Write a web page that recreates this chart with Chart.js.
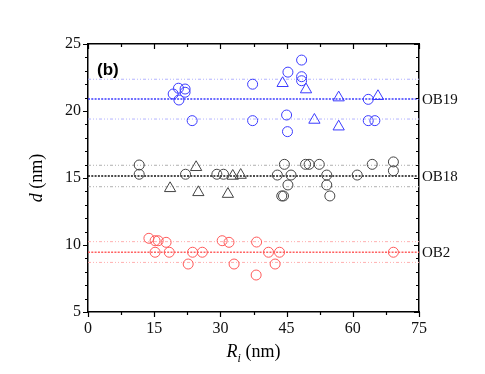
<!DOCTYPE html>
<html>
<head>
<meta charset="utf-8">
<script src="https://cdn.jsdelivr.net/npm/chart.js@4/dist/chart.umd.min.js"></script>
<style>
html,body{margin:0;padding:0;background:#fff;}
#wrap{width:485px;height:374px;position:relative;}
</style>
</head>
<body>
<div id="wrap"><canvas id="c" width="485" height="374"></canvas></div>
<script>
// ---- data ----
const ob19CircleX = [19.3, 20.5, 22.0, 22.0, 20.6, 23.6, 37.3, 37.3, 45.3, 48.4, 48.4, 48.4, 45.0, 45.2, 63.5, 63.5, 65.0];
const ob19CircleY = [21.27, 21.7, 21.64, 21.4, 20.82, 19.28, 22.0, 19.28, 22.9, 23.8, 22.56, 22.26, 19.7, 18.46, 20.87, 19.28, 19.28];
const ob19TriX = [44.1, 49.4, 56.8, 65.7, 51.3, 56.8];
const ob19TriY = [22.07, 21.6, 21.0, 21.1, 19.33, 18.83];

const ob18CircleX = [11.6, 11.6, 22.1, 29.2, 30.7, 44.5, 49.3, 50.1, 52.4, 64.4, 69.2, 69.2, 42.9, 46.0, 54.1, 61.0, 45.3, 54.1, 43.9, 44.3, 54.8];
const ob18CircleY = [15.97, 15.28, 15.28, 15.28, 15.28, 16.02, 16.02, 16.02, 16.02, 16.02, 16.2, 15.54, 15.22, 15.22, 15.22, 15.22, 14.48, 14.48, 13.66, 13.66, 13.66];
const ob18TriX = [24.5, 18.6, 25.0, 31.7, 32.8, 34.6];
const ob18TriY = [15.8, 14.23, 13.93, 13.8, 15.15, 15.22];

const ob2CircleX = [13.8, 15.2, 15.9, 17.7, 15.2, 18.4, 22.7, 23.7, 25.9, 30.4, 31.95, 33.1, 38.2, 38.1, 40.9, 43.4, 42.4, 69.2];
const ob2CircleY = [10.5, 10.32, 10.32, 10.2, 9.46, 9.46, 8.58, 9.46, 9.46, 10.32, 10.2, 8.58, 10.22, 7.76, 9.46, 9.46, 8.58, 9.46];

const groupNames = ["OB19", "OB18", "OB2"];
const groupMean  = [20.9, 15.15, 9.46];
const groupUpper = [22.37, 15.95, 10.25];
const groupLower = [19.4, 14.35, 8.7];

const xRange = [0, 75];
const yRange = [5, 25];
const xTickValues = [0, 15, 30, 45, 60, 75];
const yTickValues = [5, 10, 15, 20, 25];

// ---- styles ----
const groupColor = ["#3c3cff", "#444444", "#ff5a5a"];
const meanColor  = ["#3c3cff", "#111111", "#ff6060"];
const boundColor = ["#b4b4ff", "#b0b0b0", "#ffb0b0"];

function pts(xs, ys){ return xs.map((x,i)=>({x:x, y:ys[i]})); }

const datasets = [];
for (let g = 0; g < groupNames.length; g++) {
  [groupUpper[g], groupLower[g]].forEach(v => {
    datasets.push({type:'line', data:[{x:xRange[0],y:v},{x:xRange[1],y:v}],
      borderColor:boundColor[g], borderWidth:1, borderDash:[3,2,1,2,1,2], pointRadius:0, order:5});
  });
  datasets.push({type:'line', data:[{x:xRange[0],y:groupMean[g]},{x:xRange[1],y:groupMean[g]}],
    borderColor:meanColor[g], borderWidth:1.4, borderDash:[2,1.3], pointRadius:0, order:4});
}
function markerSet(xs, ys, color, style, r){
  return {type:'scatter', data:pts(xs,ys), showLine:false, pointStyle:style,
    pointRadius:r, pointHoverRadius:r, borderColor:color, backgroundColor:'rgba(0,0,0,0)',
    pointBorderWidth:1, borderWidth:1, order:1};
}
datasets.push(markerSet(ob19CircleX, ob19CircleY, groupColor[0], 'circle', 5));
datasets.push(markerSet(ob19TriX, ob19TriY, groupColor[0], 'triangle', 6.5));
datasets.push(markerSet(ob18CircleX, ob18CircleY, groupColor[1], 'circle', 5));
datasets.push(markerSet(ob18TriX, ob18TriY, groupColor[1], 'triangle', 6.5));
datasets.push(markerSet(ob2CircleX, ob2CircleY, groupColor[2], 'circle', 5));

const serif = "'Liberation Serif','Times New Roman',serif";

const tickPlugin = {
  id:'ticksAndText',
  afterDraw(chart){
    const ctx = chart.ctx, a = chart.chartArea;
    const xs = chart.scales.x, ys = chart.scales.y;
    ctx.save();
    ctx.strokeStyle = '#000'; ctx.lineWidth = 1.2;
    ctx.beginPath();
    for (let v = xRange[0]; v <= xRange[1] + 1e-9; v += 7.5) {
      const major = Math.abs(v/15 - Math.round(v/15)) < 1e-6;
      const px = Math.round(xs.getPixelForValue(v)) + 0.5;
      const L = major ? 5 : 3;
      ctx.moveTo(px, a.bottom); ctx.lineTo(px, a.bottom + L);
      ctx.moveTo(px, a.top); ctx.lineTo(px, a.top + L);
    }
    for (let v = yRange[0]; v <= yRange[1] + 1e-9; v += 1) {
      const major = v % 5 === 0;
      const py = Math.round(ys.getPixelForValue(v)) + 0.5;
      const L = major ? 5 : 3;
      ctx.moveTo(a.left, py); ctx.lineTo(a.left - L, py);
      ctx.moveTo(a.right, py); ctx.lineTo(a.right - L, py);
    }
    ctx.stroke();
    ctx.fillStyle = '#111';
    ctx.font = '15px ' + serif;
    ctx.textBaseline = 'middle'; ctx.textAlign = 'left';
    for (let g = 0; g < groupNames.length; g++) {
      ctx.fillText(groupNames[g], a.right + 3, ys.getPixelForValue(groupMean[g]) + 1);
    }
    ctx.font = 'bold 17px "Liberation Sans", Arial, sans-serif';
    ctx.fillStyle = '#000';
    ctx.fillText('(b)', 97, 70);
    const cx = (a.left + a.right) / 2;
    const by = 357;
    ctx.textBaseline = 'alphabetic';
    ctx.font = 'italic 18px ' + serif;
    const wR = ctx.measureText('R').width;
    ctx.font = 'italic 12px ' + serif;
    const wi = ctx.measureText('i').width;
    ctx.font = '18px ' + serif;
    const wRest = ctx.measureText(' (nm)').width;
    let x0 = cx - (wR + wi + wRest) / 2;
    ctx.font = 'italic 18px ' + serif; ctx.fillText('R', x0, by);
    ctx.font = 'italic 12px ' + serif; ctx.fillText('i', x0 + wR, by + 5);
    ctx.font = '18px ' + serif; ctx.fillText(' (nm)', x0 + wR + wi, by);
    ctx.save();
    ctx.translate(42, (a.top + a.bottom) / 2);
    ctx.rotate(-Math.PI / 2);
    ctx.font = 'italic 18px ' + serif;
    const wd = ctx.measureText('d').width;
    ctx.font = '18px ' + serif;
    const wn = ctx.measureText(' (nm)').width;
    const s = -(wd + wn) / 2;
    ctx.font = 'italic 18px ' + serif; ctx.fillText('d', s, 0);
    ctx.font = '18px ' + serif; ctx.fillText(' (nm)', s + wd, 0);
    ctx.restore();
    ctx.restore();
  }
};

new Chart(document.getElementById('c'), {
  data: { datasets: datasets },
  options: {
    responsive:false, animation:false, devicePixelRatio:1,
    layout:{ padding:{ left:0, right:66, top:44, bottom:0 } },
    plugins:{ legend:{display:false}, tooltip:{enabled:false} },
    scales:{
      x:{ type:'linear', position:'bottom', min:xRange[0], max:xRange[1],
        afterFit(s){ s.height = 62; },
        afterBuildTicks(s){ s.ticks = xTickValues.map(v=>({value:v})); },
        grid:{ display:true, drawOnChartArea:false, drawTicks:false },
        border:{ display:true, color:'#000', width:1.5 },
        ticks:{ color:'#111', padding:7, font:{ family:serif, size:16 } } },
      y:{ type:'linear', position:'left', min:yRange[0], max:yRange[1],
        afterFit(s){ s.width = 88; },
        afterBuildTicks(s){ s.ticks = yTickValues.map(v=>({value:v})); },
        grid:{ display:true, drawOnChartArea:false, drawTicks:false },
        border:{ display:true, color:'#000', width:1.5 },
        ticks:{ color:'#111', padding:7, font:{ family:serif, size:16 } } },
      x2:{ type:'linear', position:'top', min:xRange[0], max:xRange[1],
        afterFit(s){ s.height = 0; },
        grid:{ display:true, drawOnChartArea:false, drawTicks:false },
        border:{ display:true, color:'#000', width:1.5 },
        ticks:{ display:false } },
      y2:{ type:'linear', position:'right', min:yRange[0], max:yRange[1],
        afterFit(s){ s.width = 0; },
        grid:{ display:true, drawOnChartArea:false, drawTicks:false },
        border:{ display:true, color:'#000', width:1.5 },
        ticks:{ display:false } }
    }
  },
  plugins:[tickPlugin]
});
</script>
</body>
</html>
